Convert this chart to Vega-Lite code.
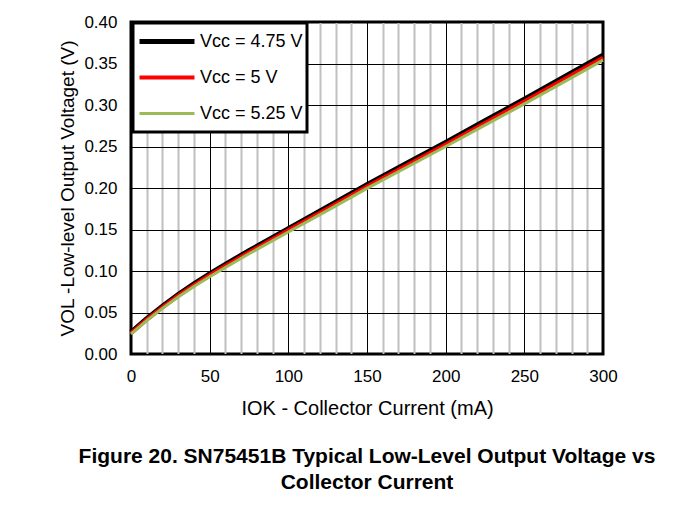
{
  "$schema": "https://vega.github.io/schema/vega-lite/v6.json",
  "autosize": {"type": "none"},
  "padding": {"left": 131, "top": 22, "right": 70, "bottom": 156},
  "width": 472,
  "height": 332,
  "background": "white",
  "config": {
    "font": "Liberation Sans",
    "view": {"stroke": "#000000", "strokeWidth": 3},
    "axis": {"labelColor": "#000000", "titleColor": "#000000", "labelFont": "Liberation Sans", "titleFont": "Liberation Sans"},
    "legend": {"strokeColor": "#000000", "fillColor": "#ffffff", "strokeWidth": 3}
  },
  "title": {
    "text": ["Figure 20. SN75451B Typical Low-Level Output Voltage vs", "Collector Current"],
    "orient": "bottom",
    "anchor": "middle",
    "fontSize": 21,
    "fontWeight": "bold",
    "font": "Liberation Sans",
    "color": "#000000",
    "lineHeight": 26,
    "offset": 28
  },
  "data": {
    "values": [
      {"I": 0, "V": 0.026, "s": "Vcc = 4.75 V"},
      {"I": 10, "V": 0.0425, "s": "Vcc = 4.75 V"},
      {"I": 20, "V": 0.0575, "s": "Vcc = 4.75 V"},
      {"I": 30, "V": 0.0715, "s": "Vcc = 4.75 V"},
      {"I": 40, "V": 0.0845, "s": "Vcc = 4.75 V"},
      {"I": 50, "V": 0.0965, "s": "Vcc = 4.75 V"},
      {"I": 60, "V": 0.108, "s": "Vcc = 4.75 V"},
      {"I": 75, "V": 0.1245, "s": "Vcc = 4.75 V"},
      {"I": 100, "V": 0.151, "s": "Vcc = 4.75 V"},
      {"I": 125, "V": 0.1775, "s": "Vcc = 4.75 V"},
      {"I": 150, "V": 0.204, "s": "Vcc = 4.75 V"},
      {"I": 175, "V": 0.2295, "s": "Vcc = 4.75 V"},
      {"I": 200, "V": 0.255, "s": "Vcc = 4.75 V"},
      {"I": 225, "V": 0.281, "s": "Vcc = 4.75 V"},
      {"I": 250, "V": 0.307, "s": "Vcc = 4.75 V"},
      {"I": 275, "V": 0.3335, "s": "Vcc = 4.75 V"},
      {"I": 300, "V": 0.360, "s": "Vcc = 4.75 V"},
      {"I": 0, "V": 0.025, "s": "Vcc = 5 V"},
      {"I": 10, "V": 0.0415, "s": "Vcc = 5 V"},
      {"I": 20, "V": 0.0563, "s": "Vcc = 5 V"},
      {"I": 30, "V": 0.0702, "s": "Vcc = 5 V"},
      {"I": 40, "V": 0.083, "s": "Vcc = 5 V"},
      {"I": 50, "V": 0.0948, "s": "Vcc = 5 V"},
      {"I": 60, "V": 0.1062, "s": "Vcc = 5 V"},
      {"I": 75, "V": 0.1226, "s": "Vcc = 5 V"},
      {"I": 100, "V": 0.149, "s": "Vcc = 5 V"},
      {"I": 125, "V": 0.1753, "s": "Vcc = 5 V"},
      {"I": 150, "V": 0.2017, "s": "Vcc = 5 V"},
      {"I": 175, "V": 0.2271, "s": "Vcc = 5 V"},
      {"I": 200, "V": 0.2525, "s": "Vcc = 5 V"},
      {"I": 225, "V": 0.2784, "s": "Vcc = 5 V"},
      {"I": 250, "V": 0.3043, "s": "Vcc = 5 V"},
      {"I": 275, "V": 0.3307, "s": "Vcc = 5 V"},
      {"I": 300, "V": 0.357, "s": "Vcc = 5 V"},
      {"I": 0, "V": 0.024, "s": "Vcc = 5.25 V"},
      {"I": 10, "V": 0.0403, "s": "Vcc = 5.25 V"},
      {"I": 20, "V": 0.055, "s": "Vcc = 5.25 V"},
      {"I": 30, "V": 0.0687, "s": "Vcc = 5.25 V"},
      {"I": 40, "V": 0.0813, "s": "Vcc = 5.25 V"},
      {"I": 50, "V": 0.093, "s": "Vcc = 5.25 V"},
      {"I": 60, "V": 0.1043, "s": "Vcc = 5.25 V"},
      {"I": 75, "V": 0.1207, "s": "Vcc = 5.25 V"},
      {"I": 100, "V": 0.147, "s": "Vcc = 5.25 V"},
      {"I": 125, "V": 0.1731, "s": "Vcc = 5.25 V"},
      {"I": 150, "V": 0.1995, "s": "Vcc = 5.25 V"},
      {"I": 175, "V": 0.2247, "s": "Vcc = 5.25 V"},
      {"I": 200, "V": 0.25, "s": "Vcc = 5.25 V"},
      {"I": 225, "V": 0.2757, "s": "Vcc = 5.25 V"},
      {"I": 250, "V": 0.3013, "s": "Vcc = 5.25 V"},
      {"I": 275, "V": 0.3275, "s": "Vcc = 5.25 V"},
      {"I": 300, "V": 0.354, "s": "Vcc = 5.25 V"}
    ]
  },
  "mark": {"type": "line", "clip": false},
  "encoding": {
    "x": {
      "field": "I",
      "type": "quantitative",
      "scale": {"domain": [0, 300], "nice": false, "zero": false},
      "axis": {
        "title": "IOK - Collector Current (mA)",
        "values": [0, 10, 20, 30, 40, 50, 60, 70, 80, 90, 100, 110, 120, 130, 140, 150, 160, 170, 180, 190, 200, 210, 220, 230, 240, 250, 260, 270, 280, 290, 300],
        "labelExpr": "datum.value % 50 === 0 ? datum.label : ''",
        "labelOverlap": false,
        "labelFlush": false,
        "labelFontSize": 17,
        "labelPadding": 14,
        "titleFontSize": 20,
        "titleFontWeight": "normal",
        "titlePadding": 14,
        "ticks": false,
        "domain": false,
        "grid": true,
        "gridColor": {"condition": {"test": "datum.value % 50 === 0", "value": "#000000"}, "value": "#c0c0c0"},
        "gridWidth": {"condition": {"test": "datum.value % 50 === 0", "value": 1}, "value": 2},
        "gridOpacity": 1
      }
    },
    "y": {
      "field": "V",
      "type": "quantitative",
      "scale": {"domain": [0, 0.4], "nice": false},
      "axis": {
        "title": "VOL -Low-level Output Voltaget (V)",
        "values": [0, 0.05, 0.1, 0.15, 0.2, 0.25, 0.3, 0.35, 0.4],
        "format": ".2f",
        "labelFontSize": 17,
        "labelPadding": 14,
        "titleFontSize": 19,
        "titleFontWeight": "normal",
        "titlePadding": 6,
        "ticks": false,
        "domain": false,
        "grid": true,
        "gridColor": "#000000",
        "gridWidth": 1,
        "gridOpacity": 1
      }
    },
    "color": {
      "field": "s",
      "type": "nominal",
      "scale": {"domain": ["Vcc = 4.75 V", "Vcc = 5 V", "Vcc = 5.25 V"], "range": ["#000000", "#ff0000", "#9bbb59"]},
      "legend": {
        "title": null,
        "orient": "none",
        "legendX": 2,
        "legendY": 1,
        "symbolType": "stroke",
        "symbolSize": 3025,
        "symbolStrokeWidth": 5,
        "labelFontSize": 18,
        "labelFont": "Liberation Sans",
        "labelColor": "#000000",
        "labelOffset": 3,
        "clipHeight": 29,
        "rowPadding": 7,
        "padding": 4,
        "labelLimit": 300
      }
    },
    "strokeWidth": {
      "field": "s",
      "type": "nominal",
      "scale": {"domain": ["Vcc = 4.75 V", "Vcc = 5 V", "Vcc = 5.25 V"], "range": [5, 3, 6]},
      "legend": null
    }
  }
}
